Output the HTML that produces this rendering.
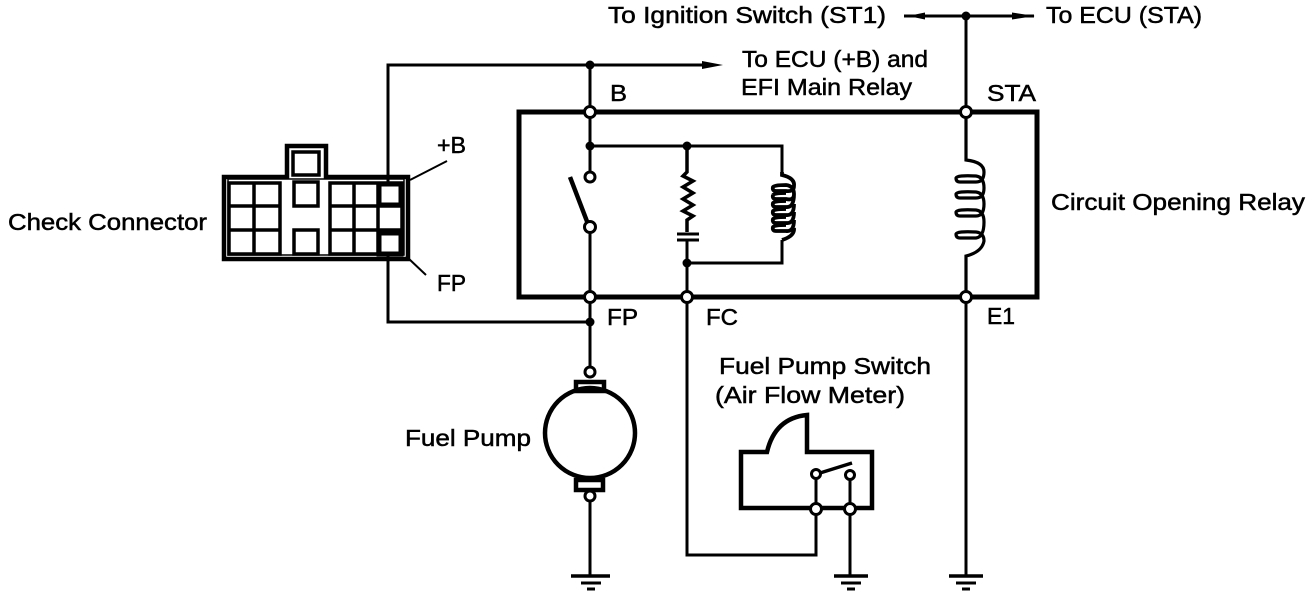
<!DOCTYPE html>
<html>
<head>
<meta charset="utf-8">
<style>
html,body{margin:0;padding:0;background:#fff;width:1312px;height:598px;overflow:hidden}
svg{display:block}
text{font-family:"Liberation Sans",sans-serif;font-size:23px;fill:#000;stroke:#000;stroke-width:.5px}
</style>
</head>
<body>
<svg width="1312" height="598" viewBox="0 0 1312 598" xmlns="http://www.w3.org/2000/svg">
<g fill="none" stroke="#000" stroke-width="3" stroke-linejoin="miter">
  <!-- relay frame -->
  <rect x="519" y="112" width="518" height="185" stroke-width="5"/>
  <!-- top wires -->
  <path d="M388 183V65H715"/>
  <path d="M590 65V112"/>
  <path d="M904 16H1034"/>
  <path d="M966 16V112"/>
  <!-- check connector -->
  <path d="M224 177H287V146H326V177H408V259H224Z" stroke-width="4.5"/>
  <path d="M228 179H404V255H228Z" stroke-width="1.5"/>
  <rect x="293" y="152" width="26" height="23" stroke-width="3.5"/>
  <rect x="229" y="183" width="51" height="71" stroke-width="3.5"/>
  <path d="M254 183V254M229 206H280M229 230H280" stroke-width="3.5"/>
  <rect x="294" y="182" width="24" height="24" stroke-width="3.5"/>
  <rect x="294" y="230" width="24" height="24" stroke-width="3.5"/>
  <rect x="330" y="183" width="72" height="71" stroke-width="3.5"/>
  <path d="M354 183V254M378 183V254M330 206H402M330 230H402" stroke-width="3.5"/>
  <rect x="379" y="184" width="22" height="21" stroke-width="5"/>
  <rect x="379" y="233" width="22" height="21" stroke-width="5"/>
  <path d="M410 180L447 161M408 258L426 275" stroke-width="2"/>
  <path d="M388 256V322H590"/>
  <!-- relay inner: switch -->
  <path d="M590 112V172"/>
  <path d="M590 146H782V172"/>
  <path d="M590 227V297"/>
  <path d="M570 177L588 224" stroke-width="4.5"/>
  <!-- resistor + capacitor -->
  <path d="M687 146V172L683 176L693 181L683 187L693 193L683 199L693 205L683 211L693 216L687 220V232" stroke-width="3.5"/>
  <path d="M677 234H699M677 240H699" stroke-width="3"/>
  <path d="M687 240V297"/>
  <path d="M687 263H782V240"/>
  <!-- small coil -->
  <path d="M782 172V175Q795 178 794 186Q794 192 786 191H776Q772 191 773 187Q774 185 786 185Q794 186 794 194Q794 201 786 199H776Q772 199 773 195M773 195Q774 193 786 193M794 194Q794 208 786 207H776Q772 207 773 203Q774 201 786 201M794 204Q794 216 786 215H776Q772 215 773 211Q774 209 786 209M794 212Q794 224 786 223H776Q772 223 773 219Q774 217 786 217M794 220Q794 232 786 231H776Q772 231 773 227Q774 225 786 225M794 228Q795 236 782 240" stroke-width="3.8"/>
  <!-- large coil -->
  <path d="M966 112V160Q984 162 984 172Q984 182 976 182H960Q956 182 956 178Q957 175 976 176Q984 177 984 188Q984 198 976 198H960Q956 198 956 194Q957 191 976 192Q984 193 984 204Q984 216 976 216H960Q956 216 956 212Q957 209 976 210Q984 211 984 222Q984 237 976 238H960Q956 238 956 234Q957 231 976 232Q984 233 984 241Q982 252 966 256V297" stroke-width="3.2"/>
  <path d="M966 297V576"/>
  <!-- FP to pump -->
  <path d="M590 297V368"/>
  <!-- FC wire -->
  <path d="M687 297V555H816V510"/>
  <!-- pump -->
  <circle cx="590" cy="433" r="45" stroke-width="4.5"/>
  <rect x="576" y="382" width="28" height="9" stroke-width="4.5"/>
  <rect x="576" y="480" width="27" height="10" stroke-width="4.5"/>
  <path d="M590 499V576"/>
  <!-- air flow meter box -->
  <path d="M805 508H872V452H807V415Q775 418 767 452H741V508H805" stroke-width="4.5"/>
  <path d="M816 478V503M850 479V503"/>
  <path d="M820 473L852 463" stroke-width="3.5"/>
  <path d="M850 515V576"/>
  <!-- grounds -->
  <path d="M571 576H610" stroke-width="3.5"/>
  <path d="M581 583H601" stroke-width="3"/>
  <path d="M587 589H595" stroke-width="3"/>
  <path d="M834 576H868" stroke-width="3.5"/>
  <path d="M841 583H861" stroke-width="3"/>
  <path d="M847 589H855" stroke-width="3"/>
  <path d="M949 576H983" stroke-width="3.5"/>
  <path d="M956 583H976" stroke-width="3"/>
  <path d="M962 589H970" stroke-width="3"/>
</g>
<!-- arrowheads / dots -->
<g fill="#000">
  <path d="M702 61L723 65L702 69Z"/>
  <path d="M908 16L925 12.5V19.5Z"/>
  <path d="M1012 12.5L1035 16L1012 19.5Z"/>
  <circle cx="590" cy="65" r="4.5"/>
  <circle cx="966" cy="16" r="4.5"/>
  <circle cx="590" cy="146" r="4.5"/>
  <circle cx="687" cy="146" r="4.5"/>
  <circle cx="687" cy="263" r="4.5"/>
  <circle cx="590" cy="322" r="4.5"/>
</g>
<!-- open terminals -->
<g fill="#fff" stroke="#000" stroke-width="3">
  <circle cx="590" cy="112" r="5.5"/>
  <circle cx="966" cy="112" r="5.5"/>
  <circle cx="590" cy="297" r="5.5"/>
  <circle cx="687" cy="297" r="5.5"/>
  <circle cx="966" cy="297" r="5.5"/>
  <circle cx="590" cy="177" r="5"/>
  <circle cx="590" cy="227" r="5.5"/>
  <circle cx="590" cy="372" r="5"/>
  <circle cx="590" cy="496" r="5"/>
  <circle cx="816" cy="509" r="5.5"/>
  <circle cx="850" cy="509" r="5.5"/>
  <circle cx="816" cy="474" r="4.5"/>
  <circle cx="850" cy="475" r="4.5"/>
</g>
<!-- labels -->
<text x="608" y="23" textLength="278" lengthAdjust="spacingAndGlyphs">To Ignition Switch (ST1)</text>
<text x="1046" y="23" textLength="156" lengthAdjust="spacingAndGlyphs">To ECU (STA)</text>
<text x="742" y="67" textLength="186" lengthAdjust="spacingAndGlyphs">To ECU (+B) and</text>
<text x="741" y="95" textLength="171" lengthAdjust="spacingAndGlyphs">EFI Main Relay</text>
<text x="610" y="101" textLength="17" lengthAdjust="spacingAndGlyphs">B</text>
<text x="987" y="101" textLength="49" lengthAdjust="spacingAndGlyphs">STA</text>
<text x="437" y="153" textLength="29" lengthAdjust="spacingAndGlyphs">+B</text>
<text x="8" y="230" textLength="199" lengthAdjust="spacingAndGlyphs">Check Connector</text>
<text x="437" y="291" textLength="29" lengthAdjust="spacingAndGlyphs">FP</text>
<text x="1051" y="210" textLength="254" lengthAdjust="spacingAndGlyphs">Circuit Opening Relay</text>
<text x="607" y="325" textLength="31" lengthAdjust="spacingAndGlyphs">FP</text>
<text x="706" y="325" textLength="32" lengthAdjust="spacingAndGlyphs">FC</text>
<text x="987" y="324" textLength="28" lengthAdjust="spacingAndGlyphs">E1</text>
<text x="719" y="374" textLength="212" lengthAdjust="spacingAndGlyphs">Fuel Pump Switch</text>
<text x="715" y="403" textLength="190" lengthAdjust="spacingAndGlyphs">(Air Flow Meter)</text>
<text x="405" y="446" textLength="126" lengthAdjust="spacingAndGlyphs">Fuel Pump</text>
</svg>
</body>
</html>
